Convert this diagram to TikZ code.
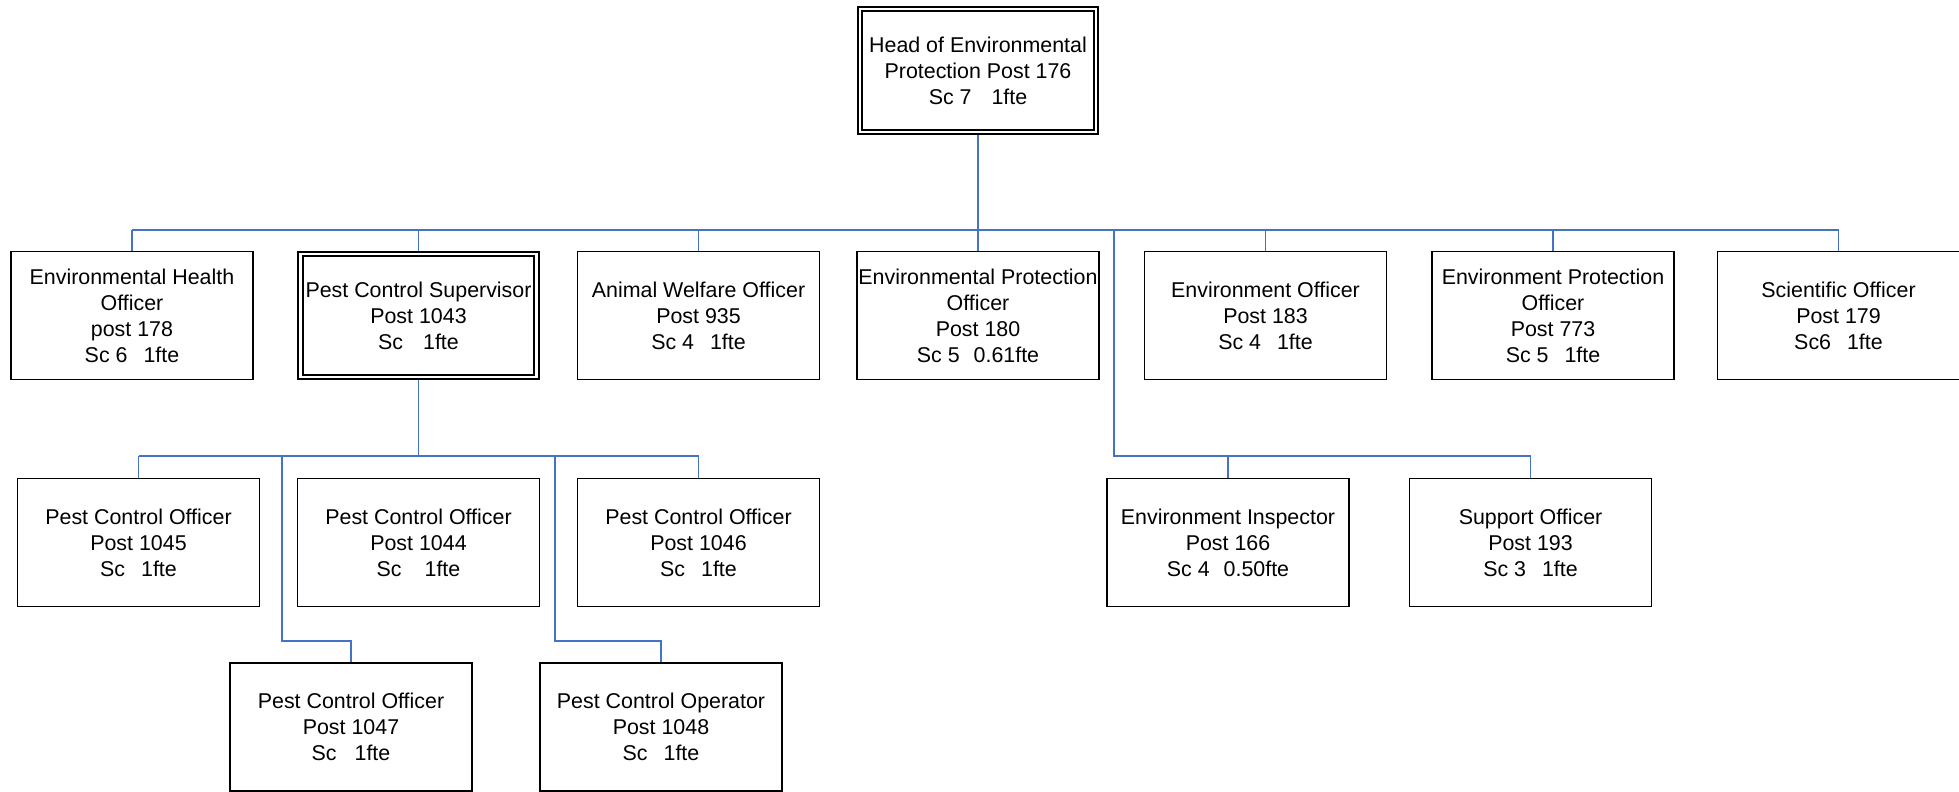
\documentclass[tikz,border=0pt]{standalone}
\usepackage{fontspec}
\setmainfont{Liberation Sans}
\usetikzlibrary{backgrounds}
\definecolor{linkblue}{RGB}{68,114,196}
\begin{document}
\begin{tikzpicture}[x=1pt,y=1pt,
  post/.style={draw=black, line width=1.9pt, fill=white, outer sep=0pt,
    minimum width=242pt, minimum height=128pt, inner sep=0pt, align=center,
    font=\fontsize{21.4}{25.9}\selectfont},
  lead/.style={draw=black, line width=1.9pt, double, double distance=2.4pt,
    fill=white, outer sep=0pt, minimum width=236pt, minimum height=123pt,
    inner sep=0pt, align=center, font=\fontsize{21.4}{25.9}\selectfont},
  link/.style={draw=linkblue, line width=1.8pt}]
\useasboundingbox (0,0) rectangle (1959,-792);

% head of service
\node[lead] (head) at (978,-70.5) {Head of Environmental\\Protection Post 176\\Sc 7\hspace{20pt}1fte};

% first tier
\node[post] (eho)   at (132,-315.5)  {Environmental Health\\Officer\\post 178\\Sc 6\hspace{16pt}1fte};
\node[lead] (pcs)   at (418.5,-315.5) {Pest Control Supervisor\\Post 1043\\Sc\hspace{20pt}1fte};
\node[post] (awo)   at (698.5,-315.5) {Animal Welfare Officer\\Post 935\\Sc 4\hspace{16pt}1fte};
\node[post] (epo)   at (978,-315.5)  {Environmental Protection\\Officer\\Post 180\\Sc 5\hspace{14pt}0.61fte};
\node[post] (eo)    at (1265.5,-315.5) {Environment Officer\\Post 183\\Sc 4\hspace{16pt}1fte};
\node[post] (epo2)  at (1553,-315.5) {Environment Protection\\Officer\\Post 773\\Sc 5\hspace{16pt}1fte};
\node[post] (sci)   at (1838.5,-315.5) {Scientific Officer\\Post 179\\Sc6\hspace{16pt}1fte};

% pest control team
\node[post] (pco45) at (138.5,-542.5) {Pest Control Officer\\Post 1045\\Sc\hspace{16pt}1fte};
\node[post] (pco44) at (418.5,-542.5) {Pest Control Officer\\Post 1044\\Sc\hspace{23pt}1fte};
\node[post] (pco46) at (698.5,-542.5) {Pest Control Officer\\Post 1046\\Sc\hspace{16pt}1fte};
\node[post] (pco47) at (351,-727)    {Pest Control Officer\\Post 1047\\Sc\hspace{18pt}1fte};
\node[post] (pco48) at (661,-727)    {Pest Control Operator\\Post 1048\\Sc\hspace{16pt}1fte};

% environment team
\node[post] (insp)  at (1228,-542.5) {Environment Inspector\\Post 166\\Sc 4\hspace{14pt}0.50fte};
\node[post] (sup)   at (1530.5,-542.5) {Support Officer\\Post 193\\Sc 3\hspace{16pt}1fte};

% junction points of the connector runs
\coordinate (bus)   at (0,-230);
\coordinate (envj)  at (1114,-456);
\coordinate (pcj)   at (0,-456);
\coordinate (j47)   at (282,-641);
\coordinate (j48)   at (555,-641);

\begin{pgfonlayer}{background}
  % main distribution line
  \draw[link] (head.south) -- (head.south |- bus);
  \draw[link] (eho.north |- bus) -- (sci.north |- bus);
  \foreach \n in {eho,pcs,awo,epo,eo,epo2,sci}
    \draw[link] (\n.north) -- (\n.north |- bus);
  % environment branch
  \draw[link] (envj |- bus) -- (envj) -- (sup.north |- envj);
  \draw[link] (insp.north) -- (insp.north |- envj);
  \draw[link] (sup.north) -- (sup.north |- envj);
  % pest control branch
  \draw[link] (pcs.south) -- (pcs.south |- pcj);
  \draw[link] (pco45.north |- pcj) -- (pco46.north |- pcj);
  \draw[link] (pco45.north) -- (pco45.north |- pcj);
  \draw[link] (pco46.north) -- (pco46.north |- pcj);
  \draw[link] (j47 |- pcj) -- (j47) -- (pco47.north |- j47) -- (pco47.north);
  \draw[link] (j48 |- pcj) -- (j48) -- (pco48.north |- j48) -- (pco48.north);
\end{pgfonlayer}
\end{tikzpicture}
\end{document}
